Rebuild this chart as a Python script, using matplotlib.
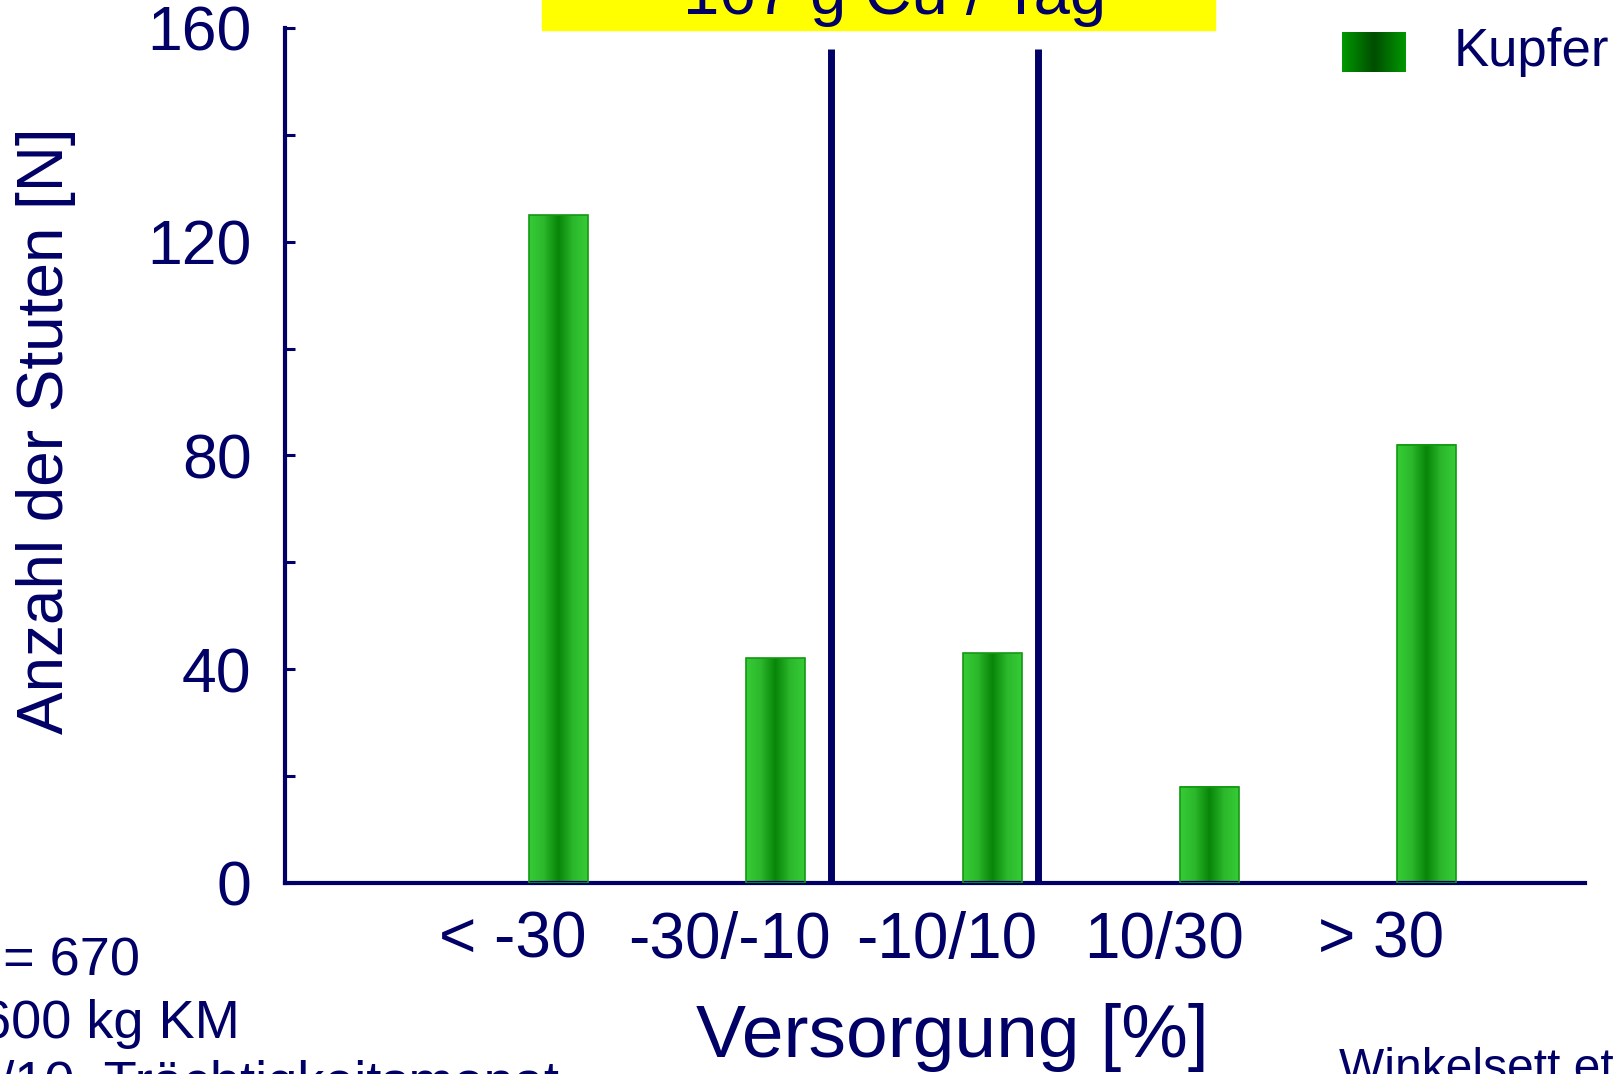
import numpy as np
import matplotlib

matplotlib.use("Agg")
import matplotlib.pyplot as plt
from matplotlib.colors import LinearSegmentedColormap
from matplotlib.patches import Rectangle

# ---------------------------------------------------------------- data
CATEGORIES = ["< -30", "-30/-10", "-10/10", "10/30", "> 30"]
COUNTS = [125, 42, 43, 18, 82]
Y_TICKS = [0, 40, 80, 120, 160]
SEPARATORS = [1.465, 2.42]   # vertical lines between supply classes
SEP_TOP = 156
TITLE = "167 g Cu / Tag"
NOTES = ["n = 670", "600 kg KM", "9./10. Trächtigkeitsmonat"]

NAVY = "#000066"
plt.rcParams.update({"font.family": ["Liberation Sans", "DejaVu Sans"],
                     "text.color": NAVY, "xtick.color": NAVY, "ytick.color": NAVY})

bar_cmap = LinearSegmentedColormap.from_list(
    "bar", ["#36cc36", "#2cb82c", "#078507", "#2cb82c", "#36cc36"])
leg_cmap = LinearSegmentedColormap.from_list(
    "leg", ["#009900", "#004d00", "#009900"])
grad = np.linspace(0, 1, 256)[None, :]

fig = plt.figure(figsize=(16.19, 10.74), dpi=100)
ax = fig.add_axes([0.176, 0.178, 0.803, 0.796])

x = np.arange(len(CATEGORIES))
off, w = 0.21, 0.27
for xi, v in zip(x, COUNTS):
    x0 = xi + off - w / 2
    ax.imshow(grad, cmap=bar_cmap, extent=(x0, x0 + w, 0, v), aspect="auto", zorder=2)
    ax.add_patch(Rectangle((x0, 0), w, v, fill=False, ec="#139813", lw=1.2, zorder=3))

for sx in SEPARATORS:
    ax.plot([sx, sx], [0, SEP_TOP], color=NAVY, lw=5, solid_capstyle="butt", zorder=4)

ax.set_xlim(-1.05, 4.94)
ax.set_ylim(0, 160)
ax.set_xticks(x)
ax.set_xticklabels(CATEGORIES, fontsize=46)
ax.set_yticks(Y_TICKS)
ax.set_yticks(np.arange(20, 160, 40), minor=True)
ax.tick_params(axis="y", which="both", direction="in", length=7, width=2.2,
               color=NAVY, labelsize=45, pad=24)
ax.tick_params(axis="x", length=0, pad=20)
ax.spines[["top", "right"]].set_visible(False)
for s in ["left", "bottom"]:
    ax.spines[s].set_color(NAVY)
    ax.spines[s].set_linewidth(3)

# title box, cut at top of the slide
fig.patches.append(Rectangle((542 / 1619, 1 - 30 / 1074), 673 / 1619, 0.05,
                             transform=fig.transFigure, color="#ffff00", zorder=0))
fig.text(895 / 1619, 1 - 14 / 1074, TITLE, fontsize=47, ha="center", va="baseline")

# legend
lax = fig.add_axes([1342 / 1619, 1 - 72 / 1074, 64 / 1619, 40 / 1074])
lax.imshow(grad, cmap=leg_cmap, aspect="auto")
lax.axis("off")
fig.text(1454 / 1619, 1 - 52 / 1074, "Kupfer", fontsize=38, va="center")

fig.text(46 / 1619, 1 - 431 / 1074, "Anzahl der Stuten [N]", fontsize=46,
         rotation=90, ha="center", va="center")
fig.text(952 / 1619, 1 - 1038 / 1074, "Versorgung [%]", fontsize=54,
         ha="center", va="center")

fig.text(-42 / 1619, 1 - 976 / 1074, NOTES[0], fontsize=39, va="baseline")
fig.text(-19 / 1619, 1 - 1038 / 1074, NOTES[1], fontsize=39, va="baseline")
fig.text(-46 / 1619, 1 - 1099 / 1074, NOTES[2], fontsize=39, va="baseline")
fig.text(1339 / 1619, 1 - 1082 / 1074, "Winkelsett et al.", fontsize=34.5, va="baseline")

fig.savefig("out.png", dpi=100)
